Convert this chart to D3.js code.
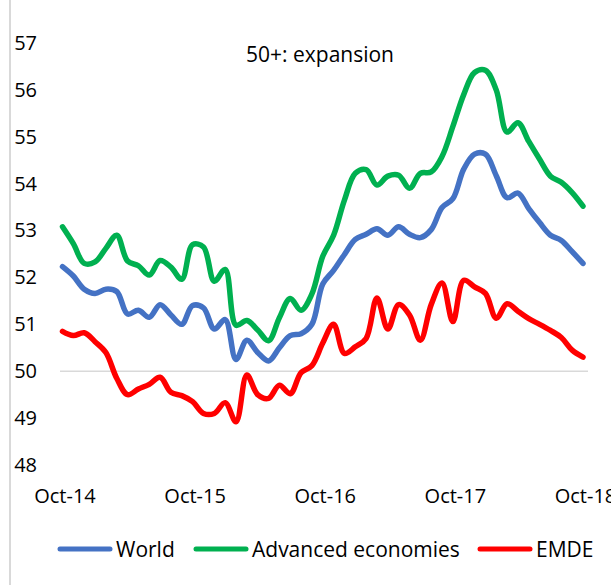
<!DOCTYPE html>
<html>
<head>
<meta charset="utf-8">
<script src="https://cdn.jsdelivr.net/npm/d3@7"></script>
<style>
  html, body { margin: 0; padding: 0; background: #fff; }
  svg { display: block; }
  text { font-family: "Open Sans", Lato, sans-serif; fill: #000; }
</style>
</head>
<body>
<svg id="chart" width="611" height="585"></svg>
<script>
// ---- Data (PMI, Oct-14 .. Oct-18, monthly) ----
const months = ["Oct-14","Nov-14","Dec-14","Jan-15","Feb-15","Mar-15","Apr-15","May-15","Jun-15","Jul-15","Aug-15","Sep-15",
  "Oct-15","Nov-15","Dec-15","Jan-16","Feb-16","Mar-16","Apr-16","May-16","Jun-16","Jul-16","Aug-16","Sep-16",
  "Oct-16","Nov-16","Dec-16","Jan-17","Feb-17","Mar-17","Apr-17","May-17","Jun-17","Jul-17","Aug-17","Sep-17",
  "Oct-17","Nov-17","Dec-17","Jan-18","Feb-18","Mar-18","Apr-18","May-18","Jun-18","Jul-18","Aug-18","Sep-18","Oct-18"];

const world = [52.23, 52.03, 51.75, 51.66, 51.75, 51.70, 51.22, 51.30, 51.15, 51.42, 51.20, 51.00,
  51.40, 51.35, 50.90, 51.10, 50.25, 50.66, 50.40, 50.22, 50.50, 50.76, 50.80, 51.00,
  51.86, 52.15, 52.49, 52.81, 52.92, 53.04, 52.90, 53.08, 52.92, 52.85, 53.02, 53.49,
  53.68, 54.31, 54.63, 54.63, 54.17, 53.70, 53.80, 53.47, 53.17, 52.90, 52.79, 52.55, 52.30];

const advanced = [53.08, 52.72, 52.30, 52.33, 52.62, 52.90, 52.35, 52.25, 52.05, 52.36, 52.22, 51.96,
  52.70, 52.65, 51.92, 52.17, 50.98, 51.08, 50.88, 50.65, 51.14, 51.55, 51.30, 51.65,
  52.45, 52.90, 53.65, 54.22, 54.30, 53.97, 54.16, 54.18, 53.90, 54.22, 54.25, 54.58,
  55.22, 55.90, 56.37, 56.42, 56.00, 55.10, 55.30, 54.90, 54.52, 54.16, 54.03, 53.81, 53.52];

const emde = [50.85, 50.76, 50.82, 50.63, 50.40, 49.85, 49.50, 49.62, 49.72, 49.87, 49.55, 49.48,
  49.35, 49.10, 49.10, 49.33, 48.92, 49.92, 49.50, 49.42, 49.70, 49.52, 49.97, 50.12,
  50.60, 51.00, 50.38, 50.52, 50.70, 51.56, 50.90, 51.42, 51.20, 50.66, 51.42, 51.88,
  51.06, 51.94, 51.80, 51.66, 51.13, 51.44, 51.28, 51.12, 51.00, 50.87, 50.72, 50.45, 50.30];

const yTicks = [48, 49, 50, 51, 52, 53, 54, 55, 56, 57];
const xTickLabels = ["Oct-14", "Oct-15", "Oct-16", "Oct-17", "Oct-18"];
const seriesNames = ["World", "Advanced economies", "EMDE"];
const titleText = "50+: expansion";

// ---- Chart ----
const FONT = "'Open Sans', Lato, sans-serif";
const svg = d3.select("#chart");
const colors = ["#4472C4", "#00B050", "#FF0000"];
const seriesData = [world, advanced, emde];

const x = d3.scalePoint().domain(months).range([62.5, 583]);
const y = d3.scaleLinear().domain([48, 57]).range([465, 43]);

// left border line of chart area
svg.append("line")
  .attr("x1", 10).attr("x2", 10).attr("y1", 0).attr("y2", 585)
  .attr("stroke", "#d9d9d9").attr("stroke-width", 2);

// 50 reference line
svg.append("line")
  .attr("x1", 60).attr("x2", 588)
  .attr("y1", y(50)).attr("y2", y(50))
  .attr("stroke", "#d9d9d9").attr("stroke-width", 1.5);

// y axis
const yAxis = svg.append("g")
  .attr("transform", "translate(40,0)")
  .call(d3.axisLeft(y).tickValues(yTicks).tickSize(0).tickPadding(3).tickFormat(d3.format("d")));
yAxis.select(".domain").remove();
yAxis.selectAll("text").style("font-size", "20px").style("font-family", FONT).attr("fill", "#000");

// x axis
const xAxis = svg.append("g")
  .attr("transform", "translate(2,465)")
  .call(d3.axisBottom(x).tickValues(xTickLabels).tickSize(0).tickPadding(24));
xAxis.select(".domain").remove();
xAxis.selectAll("text").style("font-size", "20px").style("font-family", FONT).attr("fill", "#000");

// lines
const line = d3.line()
  .x((d, i) => x(months[i]))
  .y(d => y(d))
  .curve(d3.curveCatmullRom.alpha(0.5));

[2, 0, 1].forEach(k => {
  svg.append("path")
    .datum(seriesData[k])
    .attr("d", line)
    .attr("fill", "none")
    .attr("stroke", colors[k])
    .attr("stroke-width", 5.5)
    .attr("stroke-linecap", "round")
    .attr("stroke-linejoin", "round");
});

// title
svg.append("text")
  .attr("x", 246).attr("y", 62)
  .style("font-size", "21px")
  .text(titleText);

// legend
const legendItems = [
  { lx: 58, tx: 116 },
  { lx: 194, tx: 252 },
  { lx: 478, tx: 536 }
];
legendItems.forEach((it, k) => {
  svg.append("line")
    .attr("x1", it.lx + 2).attr("x2", it.lx + 52)
    .attr("y1", 549).attr("y2", 549)
    .attr("stroke", colors[k]).attr("stroke-width", 5)
    .attr("stroke-linecap", "round");
  svg.append("text")
    .attr("x", it.tx).attr("y", 557)
    .style("font-size", "21px")
    .text(seriesNames[k]);
});
</script>
</body>
</html>
